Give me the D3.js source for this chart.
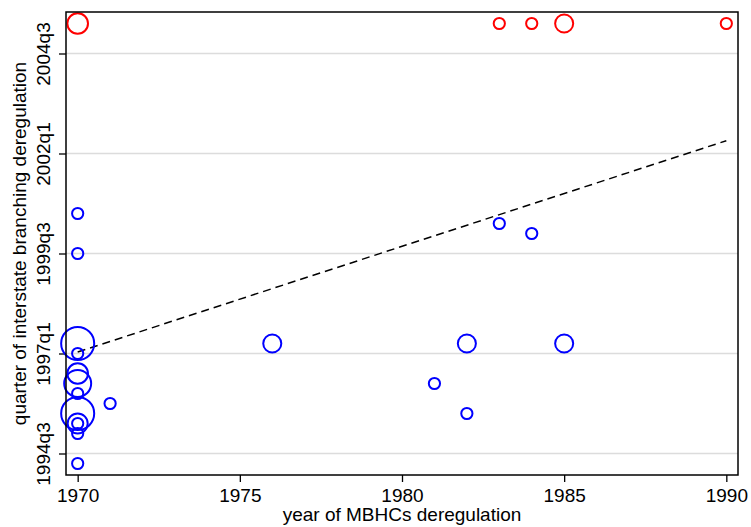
<!DOCTYPE html>
<html>
<head>
<meta charset="utf-8">
<script src="https://cdn.jsdelivr.net/npm/d3@7"></script>
<style>
  html, body { margin: 0; padding: 0; background: #fff; }
  text { font-family: "Liberation Sans", Arial, sans-serif; fill: #000; }
</style>
</head>
<body>
<figure id="scatter" style="margin:0"></figure>
<script>
// deregulated states: year of MBHC deregulation, quarter of branching deregulation (Stata %tq), weight
const blueYear    = [1970, 1970, 1970, 1970, 1970, 1970, 1970, 1970, 1970, 1970, 1970, 1970, 1971, 1976, 1981, 1982, 1982, 1983, 1984, 1985];
const blueQuarter = [162,  158,  149,  148,  146,  145,  144,  142,  141,  141,  140,  137,  143,  149,  145,  149,  142,  161,  160,  149];
const blueWeight  = [1,    1,    8.7,  1,    3.4,  5.8,  1,    8.7,  3.2,  1,    1,    1,    1,    2.6,  1,    2.6,  1,    1,    1,    2.6];

// states not yet deregulated (plotted above the last quarter)
const redYear    = [1970, 1983, 1984, 1985, 1990];
const redQuarter = [181,  181,  181,  181,  181];
const redWeight  = [3.4,  1,    1,    2.6,  1];

// fitted line endpoints
const fitYear    = [1970, 1990];
const fitQuarter = [148.15, 169.28];

const xTicks = [1970, 1975, 1980, 1985, 1990];
const yTicks = [138, 148, 158, 168, 178];
const yTickLabels = ["1994q3", "1997q1", "1999q3", "2002q1", "2004q3"];

const W = 751, H = 527;
const mLeft = 66, mRight = 738, mTop = 12, mBottom = 475;

const svg = d3.select("figure#scatter")
  .append("svg")
  .attr("width", W)
  .attr("height", H);

const x = d3.scaleLinear()
  .domain([1969.64, 1990.36])
  .range([mLeft, mRight]);

const y = d3.scaleLinear()
  .domain([135.85, 182.15])
  .range([mBottom, mTop]);

const r = d3.scaleSqrt()
  .domain([0, 1])
  .range([0, 5.6]);

// gridlines
svg.append("g")
  .selectAll("line")
  .data(yTicks)
  .enter()
  .append("line")
  .attr("x1", mLeft)
  .attr("x2", mRight)
  .attr("y1", d => y(d))
  .attr("y2", d => y(d))
  .attr("stroke", "#dcdcdc")
  .attr("stroke-width", 1.5);

// x axis
const xAxis = svg.append("g")
  .attr("transform", "translate(0," + mBottom + ")")
  .call(d3.axisBottom(x).tickValues(xTicks).tickFormat(d3.format("d")).tickSize(7).tickSizeOuter(0));
xAxis.select(".domain").remove();
xAxis.selectAll("line").attr("stroke", "#000").attr("stroke-width", 1.3);
xAxis.selectAll("text")
  .attr("y", 27)
  .attr("dy", 0)
  .style("font-size", "19px")
  .attr("fill", "#000");

// y axis
const yAxis = svg.append("g")
  .attr("transform", "translate(" + mLeft + ",0)")
  .call(d3.axisLeft(y).tickValues(yTicks).tickFormat((d, i) => yTickLabels[i]).tickSize(7).tickSizeOuter(0));
yAxis.select(".domain").remove();
yAxis.selectAll("line").attr("stroke", "#000").attr("stroke-width", 1.3);
yAxis.selectAll("text")
  .attr("x", null)
  .attr("dy", 0)
  .attr("transform", "translate(-16.5,0)rotate(-90)")
  .attr("y", 0)
  .style("text-anchor", "middle")
  .style("font-size", "19px")
  .attr("fill", "#000");

// fitted line
svg.append("line")
  .attr("x1", x(fitYear[0]))
  .attr("y1", y(fitQuarter[0]))
  .attr("x2", x(fitYear[1]))
  .attr("y2", y(fitQuarter[1]))
  .attr("stroke", "#000")
  .attr("stroke-width", 1.5)
  .attr("stroke-dasharray", "8,5");

// circles
const blue = blueYear.map((d, i) => ({ yr: d, q: blueQuarter[i], w: blueWeight[i] }));
const red = redYear.map((d, i) => ({ yr: d, q: redQuarter[i], w: redWeight[i] }));

svg.append("g")
  .selectAll("circle")
  .data(blue)
  .enter()
  .append("circle")
  .attr("cx", d => x(d.yr))
  .attr("cy", d => y(d.q))
  .attr("r", d => r(d.w))
  .attr("fill", "none")
  .attr("stroke", "#0000ff")
  .attr("stroke-width", 2);

svg.append("g")
  .selectAll("circle")
  .data(red)
  .enter()
  .append("circle")
  .attr("cx", d => x(d.yr))
  .attr("cy", d => y(d.q))
  .attr("r", d => r(d.w))
  .attr("fill", "none")
  .attr("stroke", "#ff0000")
  .attr("stroke-width", 2);

// frame
svg.append("rect")
  .attr("x", mLeft)
  .attr("y", mTop)
  .attr("width", mRight - mLeft)
  .attr("height", mBottom - mTop)
  .attr("fill", "none")
  .attr("stroke", "#000")
  .attr("stroke-width", 1.5);

// titles
svg.append("text")
  .attr("x", (mLeft + mRight) / 2)
  .attr("y", 521)
  .attr("text-anchor", "middle")
  .style("font-size", "19px")
  .text("year of MBHCs deregulation");

svg.append("text")
  .attr("transform", "translate(26," + (mTop + mBottom) / 2 + ")rotate(-90)")
  .attr("text-anchor", "middle")
  .style("font-size", "19px")
  .text("quarter of interstate branching deregulation");
</script>
</body>
</html>
